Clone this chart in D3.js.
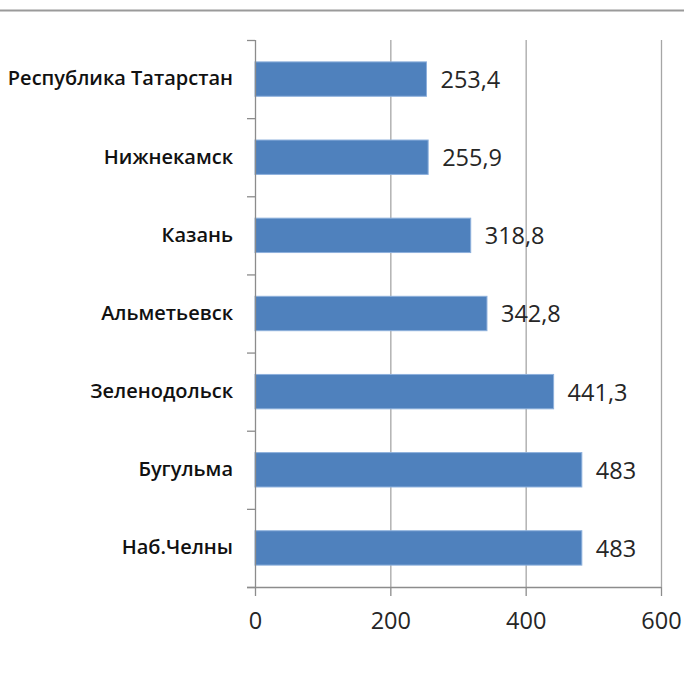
<!DOCTYPE html>
<html><head><meta charset="utf-8">
<script src="https://cdn.jsdelivr.net/npm/d3@7"></script>
<style>body{margin:0;background:#fff}svg{display:block}</style>
</head><body>
<svg id="c" width="684" height="677"></svg>
<script>
const categories = ["Республика Татарстан","Нижнекамск","Казань","Альметьевск","Зеленодольск","Бугульма","Наб.Челны"];
const values = [253.4, 255.9, 318.8, 342.8, 441.3, 483, 483];
const valueLabels = ["253,4","255,9","318,8","342,8","441,3","483","483"];
const xTicks = [0, 200, 400, 600];

(function(){
const svg = d3.select("#c");
const mL = 255, mR = 661, mT = 40, mB = 587;
const x = d3.scaleLinear().domain([0, 600]).range([mL, mR]);
const y = d3.scaleBand().domain(categories).range([mT, mB]).paddingInner(0.56).paddingOuter(0.28);
const yb = d3.scaleBand().domain(categories).range([mT, mB]);

// top rule
svg.append("line").attr("x1",0).attr("x2",684).attr("y1",10.5).attr("y2",10.5).attr("stroke","#9a9a9a").attr("stroke-width",2);

// gridlines
svg.append("g").selectAll("line").data(xTicks.slice(1)).join("line")
  .attr("x1",d=>x(d)+0.5).attr("x2",d=>x(d)+0.5).attr("y1",mT).attr("y2",mB)
  .attr("stroke","#a6a6a6").attr("stroke-width",1.3);

// bars
svg.append("g").selectAll("rect").data(values).join("rect")
  .attr("x",x(0)).attr("y",(d,i)=>y(categories[i]))
  .attr("width",d=>x(d)-x(0)).attr("height",y.bandwidth())
  .attr("fill","#4f81bd").attr("stroke","#8db0dc").attr("stroke-width",1);

// value labels
svg.append("g").selectAll("text").data(values).join("text")
  .attr("x",d=>x(d)+14).attr("y",(d,i)=>y(categories[i])+y.bandwidth()/2)
  .attr("dy","0.38em").attr("font-family","Open Sans, sans-serif").attr("font-size",23.5)
  .attr("fill","#262626").text((d,i)=>valueLabels[i]);

// x axis
const xAxis = d3.axisBottom(x).tickValues(xTicks).tickSize(9).tickPadding(16).tickFormat(d3.format("d"));
const gx = svg.append("g").attr("transform",`translate(0,${mB})`).call(xAxis);
gx.select(".domain").attr("d",`M${mL-8},0.5H${mR}`).attr("stroke","#8c8c8c").attr("stroke-width",1.3);
gx.selectAll(".tick line").attr("stroke","#8c8c8c").attr("stroke-width",1.3);
gx.selectAll("text").attr("font-family","Open Sans, sans-serif").attr("font-size",23.5).attr("fill","#262626");

// y axis
const yAxis = d3.axisLeft(yb).tickSize(0).tickPadding(22);
const gy = svg.append("g").attr("transform",`translate(${mL},0)`).call(yAxis);
gy.select(".domain").attr("d",`M0.5,${mT}V${mB}`).attr("stroke","#8c8c8c").attr("stroke-width",1.3);
gy.selectAll("text").attr("font-family","Open Sans, sans-serif").attr("font-size",20).attr("font-weight","600").attr("fill","#111");
// category boundary ticks
svg.append("g").selectAll("line").data(d3.range(categories.length+1)).join("line")
  .attr("x1",mL-8).attr("x2",mL).attr("y1",i=>mT + i*yb.step()+0.5).attr("y2",i=>mT + i*yb.step()+0.5)
  .attr("stroke","#8c8c8c").attr("stroke-width",1.3);
})();
</script>
</body></html>
